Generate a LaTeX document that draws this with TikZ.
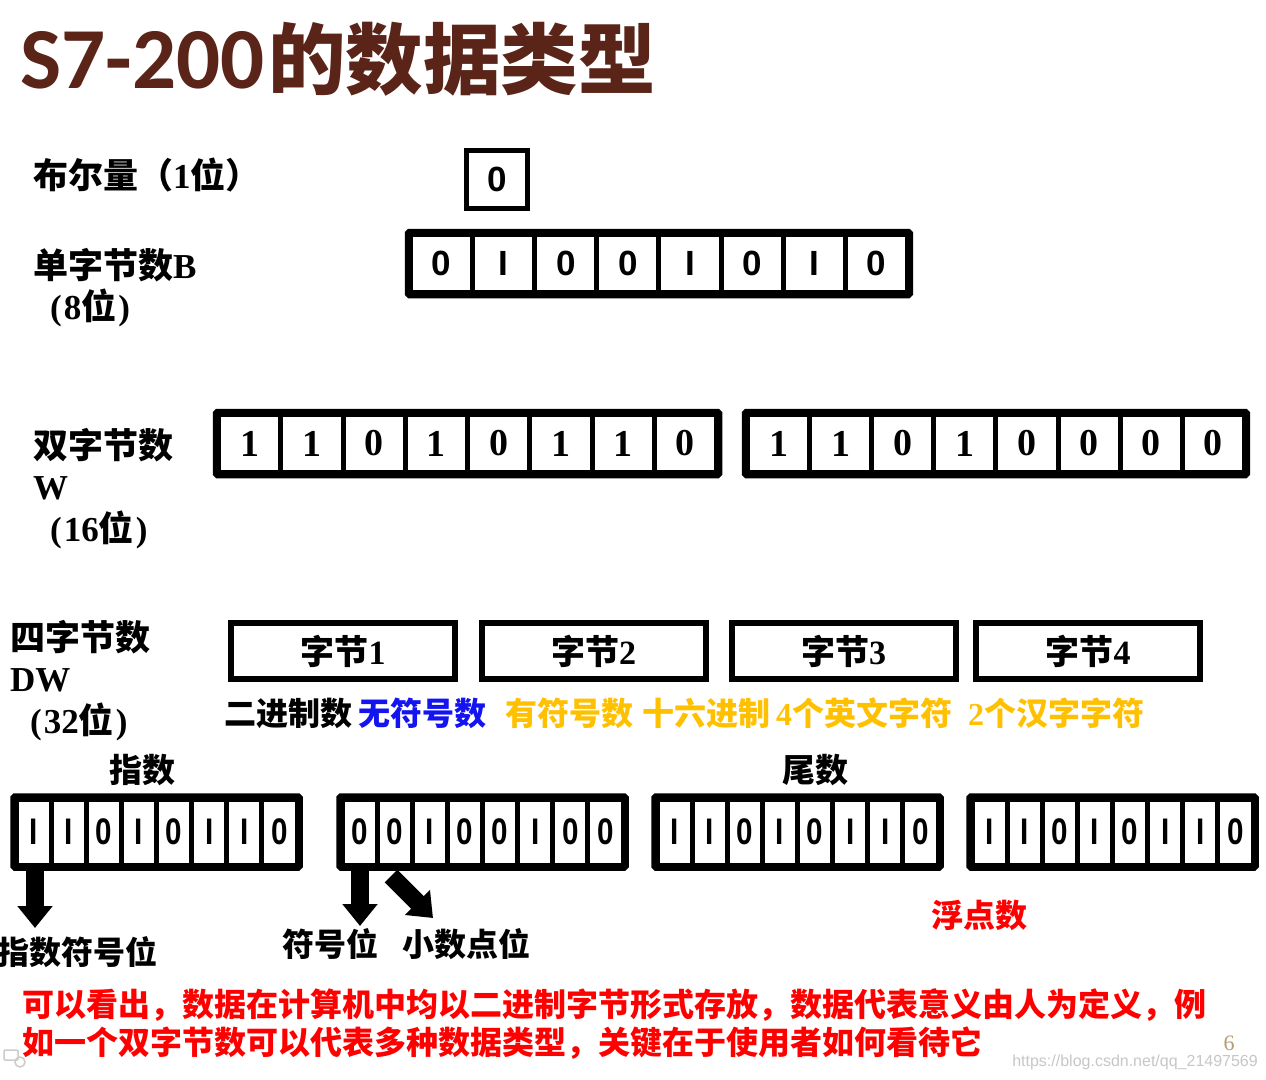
\documentclass[tikz,border=0pt]{standalone}
\usepackage{graphicx}
\usepackage{fontspec}
\setmainfont{Liberation Serif}
\newfontfamily\cjk{Noto Sans CJK SC}
\newfontfamily\arialf{Liberation Sans}
\newfontfamily\carl{Carlito}
\usetikzlibrary{arrows.meta}
\definecolor{titlebrown}{HTML}{5A2418}
\definecolor{myblue}{HTML}{1414F0}
\definecolor{myorange}{HTML}{FFC000}
\definecolor{myred}{HTML}{FF0000}
\definecolor{pagenum}{HTML}{B39C74}
\newcommand\cj[1]{{\cjk\bfseries #1}}
\newcommand\fs[1]{\fontsize{#1}{#1}\selectfont}
\newcommand\titletext{{\carl\bfseries\fs{87}S7-200}\kern4pt{\cjk\bfseries\fs{77.5}的数据类型}}
\begin{document}
\begin{tikzpicture}[x=1pt,y=-1pt,
  lbl/.style={anchor=west,inner sep=0pt,font=\bfseries\fs{35}},
  bitcell/.style={draw,line width=5pt,minimum width=#1,minimum height=58pt,inner sep=0pt,font=\arialf\bfseries\fs{35}},
  wcell/.style={draw,line width=5pt,minimum width=#1,minimum height=58pt,inner sep=0pt,font=\bfseries\fs{38}},
  fcell/.style={draw,line width=5pt,minimum width=#1,minimum height=66pt,inner sep=0pt,font=\arialf\bfseries\fs{37}},
  outerbox/.style={line width=6.5pt,rounded corners=1.5pt},
  bytebox/.style={draw,line width=6pt,minimum width=224pt,minimum height=56pt,inner sep=0pt,font=\bfseries\fs{34}},
  rowtxt/.style={anchor=west,inner sep=0pt,font=\bfseries\fs{32}},
  blockarrow/.style={line width=18pt,-{Triangle[width=34pt,length=22pt]}},
  redtxt/.style={anchor=west,inner sep=0pt,text=myred,font=\cjk\bfseries\fs{32}}
]
\useasboundingbox[fill=white] (0,0) rectangle (1266,1079);

% title
\node[anchor=base west,inner sep=0pt,text=titlebrown] (title) at (20,88) {\titletext};

% left labels
\node[lbl] (lbool) at (33,175) {\cj{布尔量（}1\cj{位）}};
\node[lbl] (lbyte) at (33,265) {\cj{单字节数}B};
\node[lbl] (lbyte2) at (50,308) {(\kern2pt8\cj{位}\kern2pt)};
\node[lbl] (lword) at (33,445) {\cj{双字节数}};
\node[lbl] (lword2) at (33,488) {W};
\node[lbl] (lword3) at (50,530) {(\kern2pt16\cj{位}\kern2pt)};
\node[lbl] (ldw) at (10,637) {\cj{四字节数}};
\node[lbl] (ldw2) at (10,680) {DW};
\node[lbl] (ldw3) at (30,722) {(\kern2pt32\cj{位}\kern2pt)};

% single bit
\node[bitcell=61pt] (bit) at (497,179.5) {0};

% byte
\foreach \v [count=\i] in {0,I,0,0,I,0,I,0}
  \node[bitcell=62.1pt] (b\i) at ({410.5+62.1*(\i-0.5)},263.5) {\v};
\draw[outerbox] (b1.north west) rectangle (b8.south east);

% word
\foreach \v [count=\i] in {1,1,0,1,0,1,1,0}
  \node[wcell=62.25pt] (wa\i) at ({218.5+62.25*(\i-0.5)},443.5) {\v};
\draw[outerbox] (wa1.north west) rectangle (wa8.south east);
\foreach \v [count=\i] in {1,1,0,1,0,0,0,0}
  \node[wcell=62.1pt] (wb\i) at ({747.5+62.1*(\i-0.5)},443.5) {\v};
\draw[outerbox] (wb1.north west) rectangle (wb8.south east);

% double word bytes
\node[bytebox] (by1) at (343,651) {\cj{字节}1};
\node[bytebox] (by2) at (593.5,651) {\cj{字节}2};
\node[bytebox] (by3) at (843.5,651) {\cj{字节}3};
\node[bytebox] (by4) at (1088,651) {\cj{字节}4};

% interpretations
\node[rowtxt] (t1) at (224,713) {\cj{二进制数}};
\node[rowtxt,text=myblue] (t2) at (358,713) {\cj{无符号数}};
\node[rowtxt,text=myorange] (t3) at (505,713) {\cj{有符号数}};
\node[rowtxt,text=myorange] (t4) at (642,713) {\cj{十六进制}};
\node[rowtxt,text=myorange] (t5) at (776,713) {4\cj{个英文字符}};
\node[rowtxt,text=myorange] (t6) at (968,713) {2\cj{个汉字字符}};

% floating point
\node[inner sep=0pt,font=\cjk\bfseries\fs{33}] (zhishu) at (142,770) {指数};
\node[inner sep=0pt,font=\cjk\bfseries\fs{33}] (weishu) at (815,770) {尾数};

\foreach \v [count=\i] in {I,I,0,I,0,I,I,0}
  \node[fcell=35.125pt] (fa\i) at ({16+35.125*(\i-0.5)},832) {\scalebox{0.8}[1]{\v}};
\draw[outerbox] (fa1.north west) rectangle (fa8.south east);
\foreach \v [count=\i] in {0,0,I,0,0,I,0,0}
  \node[fcell=35.125pt] (fb\i) at ({342+35.125*(\i-0.5)},832) {\scalebox{0.8}[1]{\v}};
\draw[outerbox] (fb1.north west) rectangle (fb8.south east);
\foreach \v [count=\i] in {I,I,0,I,0,I,I,0}
  \node[fcell=35.125pt] (fc\i) at ({657+35.125*(\i-0.5)},832) {\scalebox{0.8}[1]{\v}};
\draw[outerbox] (fc1.north west) rectangle (fc8.south east);
\foreach \v [count=\i] in {I,I,0,I,0,I,I,0}
  \node[fcell=35.125pt] (fd\i) at ({972+35.125*(\i-0.5)},832) {\scalebox{0.8}[1]{\v}};
\draw[outerbox] (fd1.north west) rectangle (fd8.south east);

% arrows
\coordinate (a1s) at (35,871);
\coordinate (a1e) at (35,928);
\coordinate (a2s) at (360,871);
\coordinate (a2e) at (360,926);
\coordinate (a3s) at (391,876);
\coordinate (a3e) at (433,918);
\draw[blockarrow] (a1s) -- (a1e);
\draw[blockarrow] (a2s) -- (a2e);
\draw[blockarrow] (a3s) -- (a3e);

\node[inner sep=0pt,font=\cjk\bfseries\fs{32}] (zsfh) at (78,952) {指数符号位};
\node[inner sep=0pt,font=\cjk\bfseries\fs{32}] (fhw) at (330,944) {符号位};
\node[inner sep=0pt,font=\cjk\bfseries\fs{32}] (xsd) at (466,944) {小数点位};
\node[inner sep=0pt,text=myred,font=\cjk\bfseries\fs{32}] (fds) at (979,915) {浮点数};

% bottom remark
\node[redtxt] (r1) at (22,1005) {可以看出，数据在计算机中均以二进制字节形式存放，数据代表意义由人为定义，例};
\node[redtxt] (r2) at (22,1043) {如一个双字节数可以代表多种数据类型，关键在于使用者如何看待它};

% page number and watermark
\node[inner sep=0pt,text=pagenum,font=\fs{22}] (pnum) at (1229,1043) {6};
\node[anchor=east,inner sep=0pt,text=black!22,font=\arialf\fs{16}] (wm) at (1258,1062) {https://blog.csdn.net/qq\_21497569};
\draw[black!20,line width=1.5pt,rounded corners=1pt] (4,1050) rectangle (18,1060);
\draw[black!20,line width=1.5pt] (20,1062) circle (5);
\end{tikzpicture}
\end{document}
